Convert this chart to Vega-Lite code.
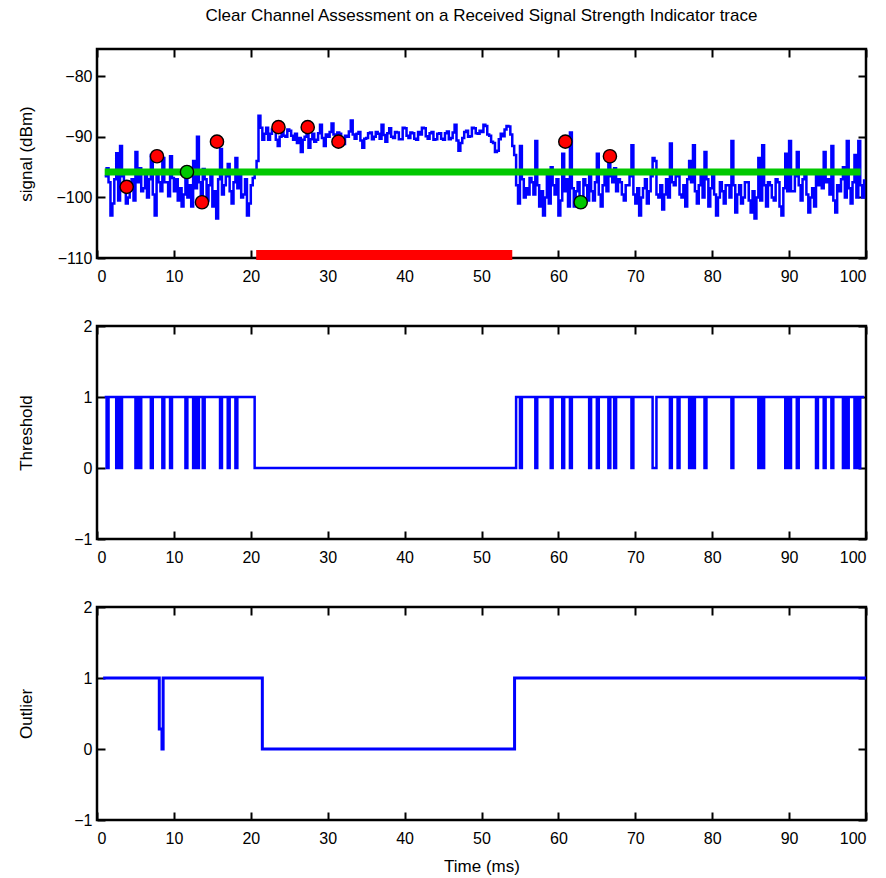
{
  "$schema": "https://vega.github.io/schema/vega-lite/v6.json",
  "autosize": {"type": "none"},
  "padding": {"left": 97, "top": 49, "right": 789, "bottom": 829},
  "background": "white",
  "title": {"text": "Clear Channel Assessment on a Received Signal Strength Indicator trace", "fontSize": 17, "font": "Liberation Sans", "fontWeight": "normal", "color": "black", "offset": 22, "anchor": "middle", "frame": "group"},
  "config": {
    "view": {"stroke": "black", "strokeWidth": 2.5},
    "axis": {"grid": false, "domain": false, "tickColor": "black", "tickSize": -8, "tickWidth": 2, "labelFont": "Liberation Sans", "labelFontSize": 16, "labelColor": "black", "titleFont": "Liberation Sans", "titleFontSize": 17, "titleFontWeight": "normal", "titleColor": "black"},
    "axisX": {"labelPadding": 18},
    "axisY": {"labelPadding": 13}
  },
  "bounds": "flush",
  "spacing": 68,
  "datasets": {
    "trace": [
      {"t":1.0,"signal":-96.5,"threshold":1},{"t":1.25,"signal":-95.2,"threshold":0},{"t":1.5,"signal":-97.5,"threshold":1},{"t":1.75,"signal":-103,"threshold":1},{"t":2.0,"signal":-101,"threshold":1},{"t":2.25,"signal":-97,"threshold":1},{"t":2.5,"signal":-92.7,"threshold":0},{"t":2.75,"signal":-100.5,"threshold":1},
      {"t":3.0,"signal":-91.5,"threshold":0},{"t":3.25,"signal":-96.5,"threshold":1},{"t":3.5,"signal":-98,"threshold":1},{"t":3.75,"signal":-101,"threshold":1},{"t":4.0,"signal":-100,"threshold":1},{"t":4.25,"signal":-98.5,"threshold":1},{"t":4.5,"signal":-97,"threshold":1},{"t":4.75,"signal":-100.5,"threshold":1},
      {"t":5.0,"signal":-92.5,"threshold":0},{"t":5.25,"signal":-97.5,"threshold":1},{"t":5.5,"signal":-95.2,"threshold":0},{"t":5.75,"signal":-99,"threshold":1},{"t":6.0,"signal":-98.5,"threshold":1},{"t":6.25,"signal":-96.5,"threshold":1},{"t":6.5,"signal":-100,"threshold":1},{"t":6.75,"signal":-97,"threshold":1},
      {"t":7.0,"signal":-93,"threshold":0},{"t":7.25,"signal":-99.5,"threshold":1},{"t":7.5,"signal":-103,"threshold":1},{"t":7.75,"signal":-96.2,"threshold":1},{"t":8.0,"signal":-97.5,"threshold":1},{"t":8.25,"signal":-99,"threshold":1},{"t":8.5,"signal":-93.5,"threshold":0},{"t":8.75,"signal":-97.5,"threshold":1},
      {"t":9.0,"signal":-97.5,"threshold":1},{"t":9.25,"signal":-99.8,"threshold":1},{"t":9.5,"signal":-93.2,"threshold":0},{"t":9.75,"signal":-96.8,"threshold":1},{"t":10.0,"signal":-99,"threshold":1},{"t":10.25,"signal":-97,"threshold":1},{"t":10.5,"signal":-100.5,"threshold":1},{"t":10.75,"signal":-98.5,"threshold":1},
      {"t":11.0,"signal":-101.5,"threshold":1},{"t":11.25,"signal":-99.5,"threshold":1},{"t":11.5,"signal":-95.5,"threshold":0},{"t":11.75,"signal":-100,"threshold":1},{"t":12.0,"signal":-98,"threshold":1},{"t":12.25,"signal":-101.5,"threshold":1},{"t":12.5,"signal":-94,"threshold":0},{"t":12.75,"signal":-98.5,"threshold":1},
      {"t":13.0,"signal":-90,"threshold":0},{"t":13.25,"signal":-97.5,"threshold":1},{"t":13.5,"signal":-101,"threshold":1},{"t":13.75,"signal":-95.3,"threshold":0},{"t":14.0,"signal":-97,"threshold":1},{"t":14.25,"signal":-100.5,"threshold":1},{"t":14.5,"signal":-98,"threshold":1},{"t":14.75,"signal":-96.5,"threshold":1},
      {"t":15.0,"signal":-101.5,"threshold":1},{"t":15.25,"signal":-99,"threshold":1},{"t":15.5,"signal":-103.5,"threshold":1},{"t":15.75,"signal":-97,"threshold":1},{"t":16.0,"signal":-92,"threshold":0},{"t":16.25,"signal":-99.5,"threshold":1},{"t":16.5,"signal":-98,"threshold":1},{"t":16.75,"signal":-96.5,"threshold":1},
      {"t":17.0,"signal":-94.5,"threshold":0},{"t":17.25,"signal":-99,"threshold":1},{"t":17.5,"signal":-101,"threshold":1},{"t":17.75,"signal":-97.5,"threshold":1},{"t":18.0,"signal":-93.5,"threshold":0},{"t":18.25,"signal":-98.5,"threshold":1},{"t":18.5,"signal":-96,"threshold":1},{"t":18.75,"signal":-100,"threshold":1},
      {"t":19.0,"signal":-99.5,"threshold":1},{"t":19.25,"signal":-97,"threshold":1},{"t":19.5,"signal":-103,"threshold":1},{"t":19.75,"signal":-101,"threshold":1},{"t":20.0,"signal":-98,"threshold":1},{"t":20.25,"signal":-96.8,"threshold":1},{"t":20.5,"signal":-95.5,"threshold":0},{"t":20.75,"signal":-94,"threshold":0},
      {"t":21.0,"signal":-86.5,"threshold":0},{"t":21.25,"signal":-88.5,"threshold":0},{"t":21.5,"signal":-90.5,"threshold":0},{"t":21.75,"signal":-89.5,"threshold":0},{"t":22.0,"signal":-88.5,"threshold":0},{"t":22.25,"signal":-90.5,"threshold":0},{"t":22.5,"signal":-89.5,"threshold":0},{"t":22.75,"signal":-88.8,"threshold":0},
      {"t":23.0,"signal":-88.5,"threshold":0},{"t":23.25,"signal":-90.5,"threshold":0},{"t":23.5,"signal":-91.5,"threshold":0},{"t":23.75,"signal":-90,"threshold":0},{"t":24.0,"signal":-89,"threshold":0},{"t":24.25,"signal":-89.8,"threshold":0},{"t":24.5,"signal":-90,"threshold":0},{"t":24.75,"signal":-88.8,"threshold":0},
      {"t":25.0,"signal":-89,"threshold":0},{"t":25.25,"signal":-89.8,"threshold":0},{"t":25.5,"signal":-90.5,"threshold":0},{"t":25.75,"signal":-89.5,"threshold":0},{"t":26.0,"signal":-91,"threshold":0},{"t":26.25,"signal":-90.2,"threshold":0},{"t":26.5,"signal":-92.5,"threshold":0},{"t":26.75,"signal":-90.5,"threshold":0},
      {"t":27.0,"signal":-90,"threshold":0},{"t":27.25,"signal":-89.3,"threshold":0},{"t":27.5,"signal":-91.8,"threshold":0},{"t":27.75,"signal":-90.4,"threshold":0},{"t":28.0,"signal":-89.5,"threshold":0},{"t":28.25,"signal":-90.8,"threshold":0},{"t":28.5,"signal":-90.5,"threshold":0},{"t":28.75,"signal":-89.4,"threshold":0},
      {"t":29.0,"signal":-88,"threshold":0},{"t":29.25,"signal":-90.2,"threshold":0},{"t":29.5,"signal":-91.5,"threshold":0},{"t":29.75,"signal":-89.6,"threshold":0},{"t":30.0,"signal":-90,"threshold":0},{"t":30.25,"signal":-89.2,"threshold":0},{"t":30.5,"signal":-87.8,"threshold":0},{"t":30.75,"signal":-89.6,"threshold":0},
      {"t":31.0,"signal":-90.5,"threshold":0},{"t":31.25,"signal":-89.3,"threshold":0},{"t":31.5,"signal":-89.5,"threshold":0},{"t":31.75,"signal":-90.6,"threshold":0},{"t":32.0,"signal":-91.2,"threshold":0},{"t":32.25,"signal":-89.8,"threshold":0},{"t":32.5,"signal":-90,"threshold":0},{"t":32.75,"signal":-89.1,"threshold":0},
      {"t":33.0,"signal":-87.3,"threshold":0},{"t":33.25,"signal":-89.6,"threshold":0},{"t":33.5,"signal":-90.3,"threshold":0},{"t":33.75,"signal":-89.5,"threshold":0},{"t":34.0,"signal":-89.2,"threshold":0},{"t":34.25,"signal":-90.6,"threshold":0},{"t":34.5,"signal":-91.8,"threshold":0},{"t":34.75,"signal":-90.3,"threshold":0},
      {"t":35.0,"signal":-90.2,"threshold":0},{"t":35.25,"signal":-89.4,"threshold":0},{"t":35.5,"signal":-89.3,"threshold":0},{"t":35.75,"signal":-90.4,"threshold":0},{"t":36.0,"signal":-90,"threshold":0},{"t":36.25,"signal":-89.2,"threshold":0},{"t":36.5,"signal":-89.5,"threshold":0},{"t":36.75,"signal":-90.3,"threshold":0},
      {"t":37.0,"signal":-88,"threshold":0},{"t":37.25,"signal":-89.7,"threshold":0},{"t":37.5,"signal":-90.8,"threshold":0},{"t":37.75,"signal":-89.4,"threshold":0},{"t":38.0,"signal":-88.6,"threshold":0},{"t":38.25,"signal":-90,"threshold":0},{"t":38.5,"signal":-90.2,"threshold":0},{"t":38.75,"signal":-89.2,"threshold":0},
      {"t":39.0,"signal":-89.3,"threshold":0},{"t":39.25,"signal":-90.4,"threshold":0},{"t":39.5,"signal":-90.4,"threshold":0},{"t":39.75,"signal":-88.5,"threshold":0},{"t":40.0,"signal":-88.6,"threshold":0},{"t":40.25,"signal":-89.8,"threshold":0},{"t":40.5,"signal":-90.2,"threshold":0},{"t":40.75,"signal":-89.3,"threshold":0},
      {"t":41.0,"signal":-89.4,"threshold":0},{"t":41.25,"signal":-90.3,"threshold":0},{"t":41.5,"signal":-90.5,"threshold":0},{"t":41.75,"signal":-89.2,"threshold":0},{"t":42.0,"signal":-89.6,"threshold":0},{"t":42.25,"signal":-88.5,"threshold":0},{"t":42.5,"signal":-88.6,"threshold":0},{"t":42.75,"signal":-89.9,"threshold":0},
      {"t":43.0,"signal":-90.3,"threshold":0},{"t":43.25,"signal":-89.4,"threshold":0},{"t":43.5,"signal":-89.2,"threshold":0},{"t":43.75,"signal":-90.5,"threshold":0},{"t":44.0,"signal":-90.4,"threshold":0},{"t":44.25,"signal":-89.5,"threshold":0},{"t":44.5,"signal":-89.4,"threshold":0},{"t":44.75,"signal":-90.3,"threshold":0},
      {"t":45.0,"signal":-90.5,"threshold":0},{"t":45.25,"signal":-89.4,"threshold":0},{"t":45.5,"signal":-89.1,"threshold":0},{"t":45.75,"signal":-90.4,"threshold":0},{"t":46.0,"signal":-90.2,"threshold":0},{"t":46.25,"signal":-89.3,"threshold":0},{"t":46.5,"signal":-88,"threshold":0},{"t":46.75,"signal":-90.6,"threshold":0},
      {"t":47.0,"signal":-92.3,"threshold":0},{"t":47.25,"signal":-91,"threshold":0},{"t":47.5,"signal":-90.2,"threshold":0},{"t":47.75,"signal":-89.2,"threshold":0},{"t":48.0,"signal":-89,"threshold":0},{"t":48.25,"signal":-90,"threshold":0},{"t":48.5,"signal":-89.9,"threshold":0},{"t":48.75,"signal":-88.5,"threshold":0},
      {"t":49.0,"signal":-88.6,"threshold":0},{"t":49.25,"signal":-89.4,"threshold":0},{"t":49.5,"signal":-89.5,"threshold":0},{"t":49.75,"signal":-89,"threshold":0},{"t":50.0,"signal":-89.2,"threshold":0},{"t":50.25,"signal":-88,"threshold":0},{"t":50.5,"signal":-88.2,"threshold":0},{"t":50.75,"signal":-89.6,"threshold":0},
      {"t":51.0,"signal":-89.8,"threshold":0},{"t":51.25,"signal":-90.8,"threshold":0},{"t":51.5,"signal":-91,"threshold":0},{"t":51.75,"signal":-92.5,"threshold":0},{"t":52.0,"signal":-92.3,"threshold":0},{"t":52.25,"signal":-90.4,"threshold":0},{"t":52.5,"signal":-89.5,"threshold":0},{"t":52.75,"signal":-89.9,"threshold":0},
      {"t":53.0,"signal":-88.8,"threshold":0},{"t":53.25,"signal":-88.2,"threshold":0},{"t":53.5,"signal":-88.3,"threshold":0},{"t":53.75,"signal":-89.6,"threshold":0},{"t":54.0,"signal":-91.5,"threshold":0},{"t":54.25,"signal":-93,"threshold":0},
      {"t":54.5,"signal":-98,"threshold":1},{"t":54.75,"signal":-101,"threshold":1},{"t":55.0,"signal":-91.5,"threshold":0},{"t":55.25,"signal":-97,"threshold":1},{"t":55.5,"signal":-100,"threshold":1},{"t":55.75,"signal":-98.5,"threshold":1},{"t":56.0,"signal":-99.5,"threshold":1},{"t":56.25,"signal":-96.8,"threshold":1},
      {"t":56.5,"signal":-97.5,"threshold":1},{"t":56.75,"signal":-99.5,"threshold":1},{"t":57.0,"signal":-90.7,"threshold":0},{"t":57.25,"signal":-98,"threshold":1},{"t":57.5,"signal":-101.5,"threshold":1},{"t":57.75,"signal":-99,"threshold":1},{"t":58.0,"signal":-103,"threshold":1},{"t":58.25,"signal":-100,"threshold":1},
      {"t":58.5,"signal":-96,"threshold":1},{"t":58.75,"signal":-101,"threshold":1},{"t":59.0,"signal":-95,"threshold":0},{"t":59.25,"signal":-98,"threshold":1},{"t":59.5,"signal":-99.5,"threshold":1},{"t":59.75,"signal":-97,"threshold":1},{"t":60.0,"signal":-103,"threshold":1},{"t":60.25,"signal":-100.5,"threshold":1},
      {"t":60.5,"signal":-92.8,"threshold":0},{"t":60.75,"signal":-99,"threshold":1},{"t":61.0,"signal":-97,"threshold":1},{"t":61.25,"signal":-101.5,"threshold":1},{"t":61.5,"signal":-89.3,"threshold":0},{"t":61.75,"signal":-98.5,"threshold":1},{"t":62.0,"signal":-101.5,"threshold":1},{"t":62.25,"signal":-99,"threshold":1},
      {"t":62.5,"signal":-97.5,"threshold":1},{"t":62.75,"signal":-100,"threshold":1},{"t":63.0,"signal":-100.5,"threshold":1},{"t":63.25,"signal":-97,"threshold":1},{"t":63.5,"signal":-98,"threshold":1},{"t":63.75,"signal":-100.5,"threshold":1},{"t":64.0,"signal":-95.5,"threshold":0},{"t":64.25,"signal":-99,"threshold":1},
      {"t":64.5,"signal":-100.5,"threshold":1},{"t":64.75,"signal":-97.5,"threshold":1},{"t":65.0,"signal":-92.8,"threshold":0},{"t":65.25,"signal":-99.5,"threshold":1},{"t":65.5,"signal":-101.5,"threshold":1},{"t":65.75,"signal":-98,"threshold":1},{"t":66.0,"signal":-96,"threshold":1},{"t":66.25,"signal":-99,"threshold":1},
      {"t":66.5,"signal":-93.5,"threshold":0},{"t":66.75,"signal":-96.5,"threshold":1},{"t":67.0,"signal":-97.5,"threshold":1},{"t":67.25,"signal":-95.2,"threshold":0},{"t":67.5,"signal":-99,"threshold":1},{"t":67.75,"signal":-97,"threshold":1},{"t":68.0,"signal":-97.5,"threshold":1},{"t":68.25,"signal":-99.5,"threshold":1},
      {"t":68.5,"signal":-100.5,"threshold":1},{"t":68.75,"signal":-98,"threshold":1},{"t":69.0,"signal":-98,"threshold":1},{"t":69.25,"signal":-96.5,"threshold":1},{"t":69.5,"signal":-91.4,"threshold":0},{"t":69.75,"signal":-99.5,"threshold":1},{"t":70.0,"signal":-101,"threshold":1},{"t":70.25,"signal":-98.5,"threshold":1},
      {"t":70.5,"signal":-103,"threshold":1},{"t":70.75,"signal":-100,"threshold":1},{"t":71.0,"signal":-98.5,"threshold":1},{"t":71.25,"signal":-97,"threshold":1},{"t":71.5,"signal":-101,"threshold":1},{"t":71.75,"signal":-99,"threshold":1},{"t":72.0,"signal":-96.5,"threshold":1},{"t":72.25,"signal":-93.5,"threshold":0},
      {"t":72.5,"signal":-94,"threshold":0},{"t":72.75,"signal":-99.5,"threshold":1},{"t":73.0,"signal":-100,"threshold":1},{"t":73.25,"signal":-98,"threshold":1},{"t":73.5,"signal":-102,"threshold":1},{"t":73.75,"signal":-99.5,"threshold":1},{"t":74.0,"signal":-97,"threshold":1},{"t":74.25,"signal":-100,"threshold":1},
      {"t":74.5,"signal":-91.1,"threshold":0},{"t":74.75,"signal":-97.5,"threshold":1},{"t":75.0,"signal":-98,"threshold":1},{"t":75.25,"signal":-96.5,"threshold":1},{"t":75.5,"signal":-95.5,"threshold":0},{"t":75.75,"signal":-99.5,"threshold":1},{"t":76.0,"signal":-100,"threshold":1},{"t":76.25,"signal":-98,"threshold":1},
      {"t":76.5,"signal":-101.5,"threshold":1},{"t":76.75,"signal":-97,"threshold":1},{"t":77.0,"signal":-94,"threshold":0},{"t":77.25,"signal":-97.5,"threshold":1},{"t":77.5,"signal":-91.4,"threshold":0},{"t":77.75,"signal":-99,"threshold":1},{"t":78.0,"signal":-101,"threshold":1},{"t":78.25,"signal":-98,"threshold":1},
      {"t":78.5,"signal":-96,"threshold":1},{"t":78.75,"signal":-100,"threshold":1},{"t":79.0,"signal":-92.5,"threshold":0},{"t":79.25,"signal":-97,"threshold":1},{"t":79.5,"signal":-101.5,"threshold":1},{"t":79.75,"signal":-98.5,"threshold":1},{"t":80.0,"signal":-96,"threshold":1},{"t":80.25,"signal":-99.5,"threshold":1},
      {"t":80.5,"signal":-103,"threshold":1},{"t":80.75,"signal":-100,"threshold":1},{"t":81.0,"signal":-97.5,"threshold":1},{"t":81.25,"signal":-99,"threshold":1},{"t":81.5,"signal":-101,"threshold":1},{"t":81.75,"signal":-98,"threshold":1},{"t":82.0,"signal":-98,"threshold":1},{"t":82.25,"signal":-100,"threshold":1},
      {"t":82.5,"signal":-90.7,"threshold":0},{"t":82.75,"signal":-98,"threshold":1},{"t":83.0,"signal":-102.5,"threshold":1},{"t":83.25,"signal":-99.5,"threshold":1},{"t":83.5,"signal":-98,"threshold":1},{"t":83.75,"signal":-101,"threshold":1},{"t":84.0,"signal":-100,"threshold":1},{"t":84.25,"signal":-97.5,"threshold":1},
      {"t":84.5,"signal":-97.5,"threshold":1},{"t":84.75,"signal":-100.5,"threshold":1},{"t":85.0,"signal":-102.5,"threshold":1},{"t":85.25,"signal":-99,"threshold":1},{"t":85.5,"signal":-103.5,"threshold":1},{"t":85.75,"signal":-100,"threshold":1},{"t":86.0,"signal":-93.5,"threshold":0},{"t":86.25,"signal":-100.5,"threshold":1},
      {"t":86.5,"signal":-91.4,"threshold":0},{"t":86.75,"signal":-98,"threshold":1},{"t":87.0,"signal":-101.5,"threshold":1},{"t":87.25,"signal":-97.5,"threshold":1},{"t":87.5,"signal":-98,"threshold":1},{"t":87.75,"signal":-100,"threshold":1},{"t":88.0,"signal":-100.5,"threshold":1},{"t":88.25,"signal":-97,"threshold":1},
      {"t":88.5,"signal":-97.5,"threshold":1},{"t":88.75,"signal":-101.5,"threshold":1},{"t":89.0,"signal":-103,"threshold":1},{"t":89.25,"signal":-98.5,"threshold":1},{"t":89.5,"signal":-92.8,"threshold":0},{"t":89.75,"signal":-99,"threshold":1},{"t":90.0,"signal":-90.7,"threshold":0},{"t":90.25,"signal":-99,"threshold":1},
      {"t":90.5,"signal":-99,"threshold":1},{"t":90.75,"signal":-96.5,"threshold":1},{"t":91.0,"signal":-92.5,"threshold":0},{"t":91.25,"signal":-98,"threshold":1},{"t":91.5,"signal":-100.5,"threshold":1},{"t":91.75,"signal":-97,"threshold":1},{"t":92.0,"signal":-96,"threshold":1},{"t":92.25,"signal":-99.5,"threshold":1},
      {"t":92.5,"signal":-102.5,"threshold":1},{"t":92.75,"signal":-100,"threshold":1},{"t":93.0,"signal":-98.5,"threshold":1},{"t":93.25,"signal":-101.5,"threshold":1},{"t":93.5,"signal":-95.5,"threshold":0},{"t":93.75,"signal":-98,"threshold":1},{"t":94.0,"signal":-96.5,"threshold":1},{"t":94.25,"signal":-98.5,"threshold":1},
      {"t":94.5,"signal":-92.5,"threshold":0},{"t":94.75,"signal":-97.5,"threshold":1},{"t":95.0,"signal":-97,"threshold":1},{"t":95.25,"signal":-99.5,"threshold":1},{"t":95.5,"signal":-91.5,"threshold":0},{"t":95.75,"signal":-100.5,"threshold":1},{"t":96.0,"signal":-102.5,"threshold":1},{"t":96.25,"signal":-98,"threshold":1},
      {"t":96.5,"signal":-99,"threshold":1},{"t":96.75,"signal":-97,"threshold":1},{"t":97.0,"signal":-95,"threshold":0},{"t":97.25,"signal":-100,"threshold":1},{"t":97.5,"signal":-90.7,"threshold":0},{"t":97.75,"signal":-98.5,"threshold":1},{"t":98.0,"signal":-101,"threshold":1},{"t":98.25,"signal":-97.5,"threshold":1},
      {"t":98.5,"signal":-93,"threshold":0},{"t":98.75,"signal":-100,"threshold":1},{"t":99.0,"signal":-90.7,"threshold":0},{"t":99.25,"signal":-98,"threshold":1},{"t":99.5,"signal":-100,"threshold":1},{"t":99.75,"signal":-97,"threshold":1}
    ],
    "outlier": [
      {"t":0.8,"outlier":1},{"t":8.1,"outlier":0.28},{"t":8.45,"outlier":0},{"t":8.6,"outlier":1},{"t":21.5,"outlier":0},{"t":54.3,"outlier":1},{"t":100,"outlier":1}
    ],
    "level": [{"t0":1,"t1":99.3,"level":-95.8}],
    "busy": [{"t0":20.7,"t1":54.0,"level":-109.5}],
    "events": [
      {"t":3.86,"signal":-98.25,"kind":"outlier"},{"t":7.8,"signal":-93.2,"kind":"outlier"},{"t":13.65,"signal":-100.8,"kind":"outlier"},{"t":15.6,"signal":-90.8,"kind":"outlier"},{"t":23.6,"signal":-88.4,"kind":"outlier"},{"t":27.4,"signal":-88.4,"kind":"outlier"},{"t":31.4,"signal":-90.8,"kind":"outlier"},{"t":60.9,"signal":-90.8,"kind":"outlier"},{"t":66.7,"signal":-93.2,"kind":"outlier"},
      {"t":11.7,"signal":-95.8,"kind":"accepted"},{"t":62.9,"signal":-100.8,"kind":"accepted"}
    ]
  },
  "vconcat": [
    {
      "width": 769, "height": 209,
      "layer": [
        {
          "data": {"name": "trace"},
          "mark": {"type": "line", "interpolate": "step-after", "color": "#0000ff", "strokeWidth": 2.5},
          "encoding": {
            "x": {"field": "t", "type": "quantitative", "scale": {"domain": [0, 100], "nice": false, "zero": false}, "axis": {"orient": "bottom", "values": [0,10,20,30,40,50,60,70,80,90,100], "title": null}},
            "y": {"field": "signal", "type": "quantitative", "scale": {"domain": [-110, -75.5], "nice": false, "zero": false}, "axis": {"orient": "left", "values": [-110,-100,-90,-80], "title": "signal (dBm)", "titleX": -71, "titleY": 104.5, "titleAngle": -90, "titleAlign": "center", "titleBaseline": "middle"}}
          }
        },
        {
          "data": {"name": "level"},
          "mark": {"type": "rule", "color": "#00c800", "strokeWidth": 7},
          "encoding": {
            "x": {"field": "t0", "type": "quantitative", "axis": {"orient": "top", "labels": false, "values": [0,10,20,30,40,50,60,70,80,90,100], "title": null}},
            "x2": {"field": "t1"},
            "y": {"field": "level", "type": "quantitative", "axis": {"orient": "right", "labels": false, "values": [-110,-100,-90,-80], "title": null}}
          }
        },
        {
          "data": {"name": "busy"},
          "mark": {"type": "rule", "color": "#ff0000", "strokeWidth": 10},
          "encoding": {
            "x": {"field": "t0", "type": "quantitative", "axis": null},
            "x2": {"field": "t1"},
            "y": {"field": "level", "type": "quantitative", "axis": null}
          }
        },
        {
          "data": {"name": "events"},
          "mark": {"type": "circle", "size": 175, "stroke": "black", "strokeWidth": 1.4, "opacity": 1},
          "encoding": {
            "x": {"field": "t", "type": "quantitative", "axis": null},
            "y": {"field": "signal", "type": "quantitative", "axis": null},
            "fill": {"field": "kind", "type": "nominal", "scale": {"domain": ["outlier", "accepted"], "range": ["#ff0000", "#00c800"]}, "legend": null}
          }
        }
      ],
      "resolve": {"axis": {"x": "independent", "y": "independent"}}
    },
    {
      "width": 769, "height": 213,
      "layer": [
        {
          "data": {"name": "trace"},
          "mark": {"type": "line", "interpolate": "step-after", "color": "#0000ff", "strokeWidth": 2.5},
          "encoding": {
            "x": {"field": "t", "type": "quantitative", "scale": {"domain": [0, 100], "nice": false, "zero": false}, "axis": {"orient": "bottom", "values": [0,10,20,30,40,50,60,70,80,90,100], "title": null}},
            "y": {"field": "threshold", "type": "quantitative", "scale": {"domain": [-1, 2], "nice": false, "zero": false}, "axis": {"orient": "left", "values": [-1,0,1,2], "title": "Threshold", "titleX": -71, "titleY": 106.5, "titleAngle": -90, "titleAlign": "center", "titleBaseline": "middle"}}
          }
        },
        {
          "data": {"name": "trace"},
          "mark": {"type": "line", "interpolate": "step-after", "strokeOpacity": 0},
          "encoding": {
            "x": {"field": "t", "type": "quantitative", "axis": {"orient": "top", "labels": false, "values": [0,10,20,30,40,50,60,70,80,90,100], "title": null}},
            "y": {"field": "threshold", "type": "quantitative", "axis": {"orient": "right", "labels": false, "values": [-1,0,1,2], "title": null}}
          }
        }
      ],
      "resolve": {"axis": {"x": "independent", "y": "independent"}}
    },
    {
      "width": 769, "height": 213,
      "layer": [
        {
          "data": {"name": "outlier"},
          "mark": {"type": "line", "interpolate": "step-after", "color": "#0000ff", "strokeWidth": 3},
          "encoding": {
            "x": {"field": "t", "type": "quantitative", "scale": {"domain": [0, 100], "nice": false, "zero": false}, "axis": {"orient": "bottom", "values": [0,10,20,30,40,50,60,70,80,90,100], "title": "Time (ms)", "titleX": 384.5, "titleY": 46, "titleAlign": "center", "titleBaseline": "middle"}},
            "y": {"field": "outlier", "type": "quantitative", "scale": {"domain": [-1, 2], "nice": false, "zero": false}, "axis": {"orient": "left", "values": [-1,0,1,2], "title": "Outlier", "titleX": -71, "titleY": 106.5, "titleAngle": -90, "titleAlign": "center", "titleBaseline": "middle"}}
          }
        },
        {
          "data": {"name": "outlier"},
          "mark": {"type": "line", "interpolate": "step-after", "strokeOpacity": 0},
          "encoding": {
            "x": {"field": "t", "type": "quantitative", "axis": {"orient": "top", "labels": false, "values": [0,10,20,30,40,50,60,70,80,90,100], "title": null}},
            "y": {"field": "outlier", "type": "quantitative", "axis": {"orient": "right", "labels": false, "values": [-1,0,1,2], "title": null}}
          }
        }
      ],
      "resolve": {"axis": {"x": "independent", "y": "independent"}}
    }
  ]
}
